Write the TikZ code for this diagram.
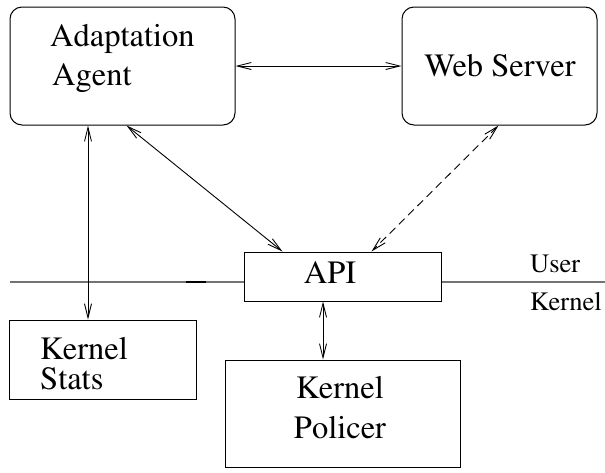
\documentclass[tikz,border=0pt]{standalone}
\usepackage[T1]{fontenc}
\usepackage{times}
\usetikzlibrary{arrows.meta}
\tikzset{
  boxline/.style={draw=black, line width=1pt, inner sep=0pt},
  rbox/.style={boxline, rounded corners=12pt},
  sbox/.style={boxline},
  big/.style={font=\rmfamily\fontsize{32.5}{39}\selectfont, inner sep=0pt},
  small/.style={font=\rmfamily\fontsize{26.5}{32}\selectfont, inner sep=0pt},
  link/.style={line width=0.9pt, {Straight Barb[length=14pt,width=7pt]}-{Straight Barb[length=14pt,width=7pt]}},
  dashlink/.style={link, dash pattern=on 8pt off 5pt},
  divider/.style={draw=black!55, line width=1.3pt},
}
\begin{document}
\begin{tikzpicture}[x=1pt, y=-1pt]
  \useasboundingbox (0,0) rectangle (605,472);

  % components
  \node[rbox, minimum width=225pt, minimum height=118pt] (agent)  at (122.5,66) {};
  \node[rbox, minimum width=195pt, minimum height=118pt] (server) at (499.5,66) {};
  \node[sbox, minimum width=197pt, minimum height=49pt]  (api)    at (342.5,276.5) {};
  \node[sbox, minimum width=187pt, minimum height=79pt]  (stats)  at (102.5,359.5) {};
  \node[sbox, minimum width=235pt, minimum height=107pt] (policer) at (342.5,413.5) {};

  % labels
  \node[big, anchor=base west] (tAgent1) at (50,46) {Adaptation};
  \node[big, anchor=base west] (tAgent2) at (52,85) {Agent};
  \node[big, anchor=base] (tServer) at (500,76) {Web Server};
  \node[big, anchor=base] (tApi) at (330,283) {API};
  \node[big, anchor=base west] (tStats1) at (40,359) {Kernel};
  \node[big, anchor=base west] (tStats2) at (40,389) {Stats};
  \node[big, anchor=base] (tPol1) at (340,398) {Kernel};
  \node[big, anchor=base] (tPol2) at (340,438) {Policer};
  \node[small, anchor=base west] (tUser) at (530,272) {User};
  \node[small, anchor=base west] (tKernel) at (530,310) {Kernel};

  % user / kernel boundary
  \coordinate (lineL) at (10,282);
  \coordinate (lineR) at (605,282);
  \coordinate (markA) at (186,282);
  \coordinate (markB) at (206,282);
  \draw[divider] (lineL) -- (lineL -| api.west);
  \draw[divider] (api.east |- lineR) -- (lineR);
  \draw[line width=2.2pt] (markA) -- (markB);

  % connectors
  \coordinate (vx) at (88,0);
  \coordinate (px) at (323,0);
  \draw[link] (agent.east) -- (server.west);
  \draw[link] (agent.south -| vx) -- (stats.north -| vx);
  \draw[link] ([xshift=117pt]agent.south west) -- ([xshift=39pt]api.north west);
  \draw[dashlink] ([xshift=97pt]server.south west) -- ([xshift=128pt]api.north west);
  \draw[link] (api.south -| px) -- (policer.north -| px);
\end{tikzpicture}
\end{document}
